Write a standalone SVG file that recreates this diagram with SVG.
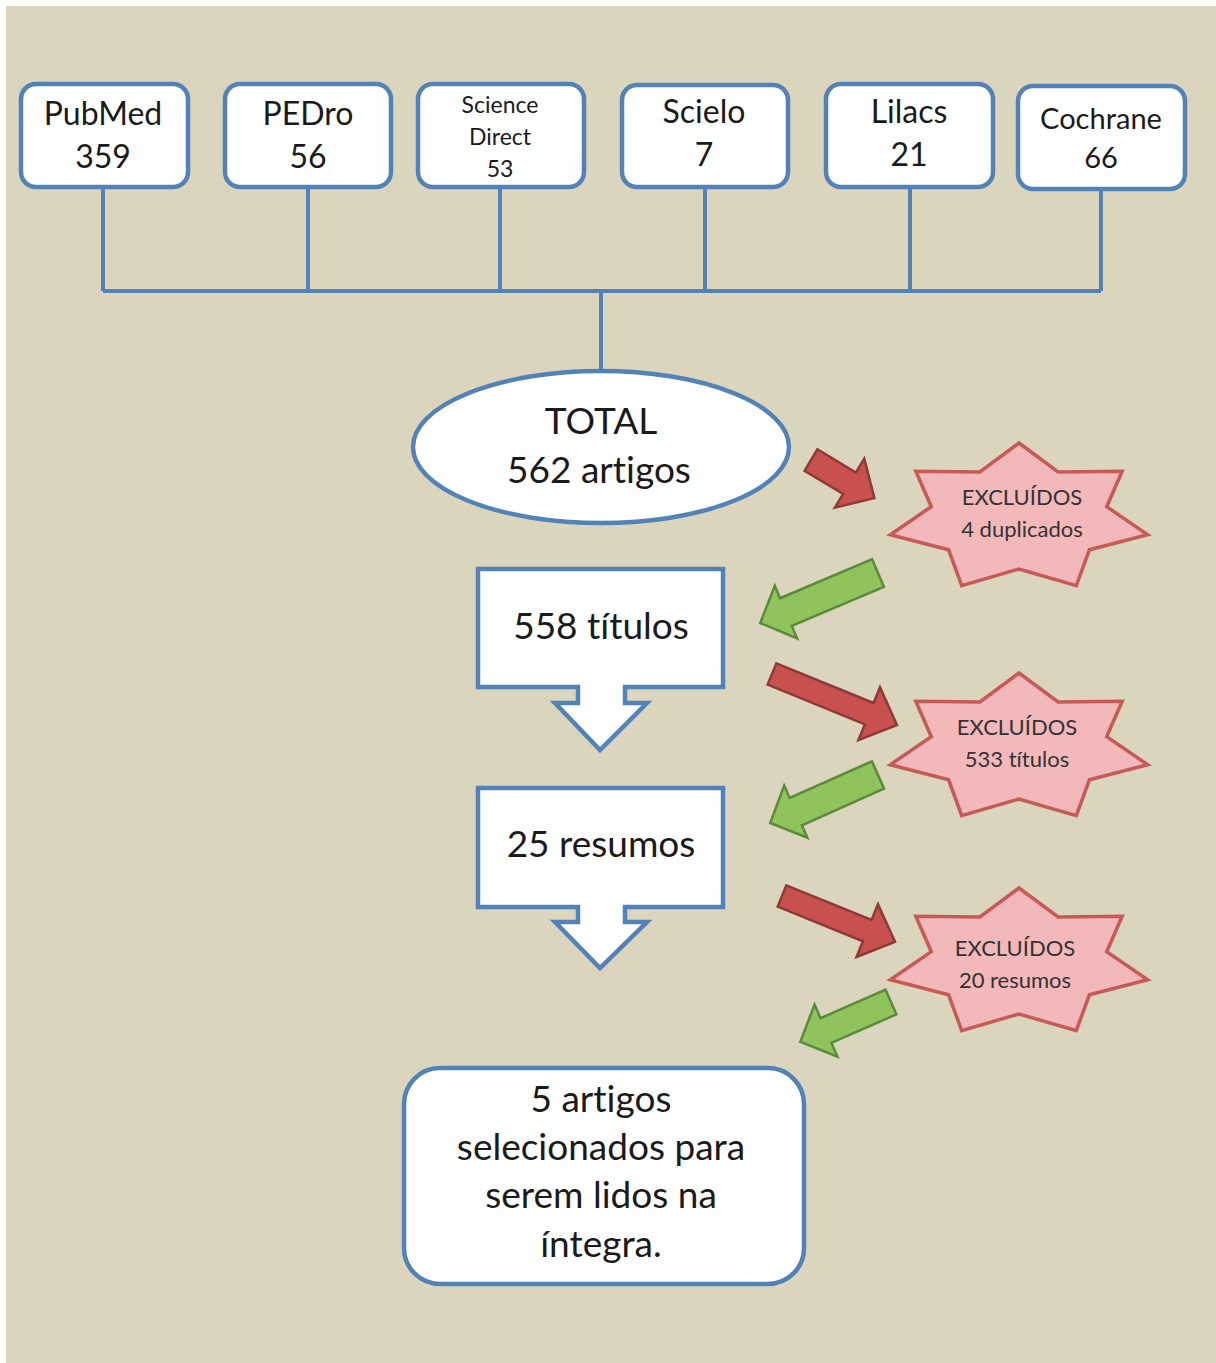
<svg xmlns="http://www.w3.org/2000/svg" width="1216" height="1363" viewBox="0 0 1216 1363">
<defs>
<style>
.bg{fill:#dbd5be}
.box{fill:#ffffff;stroke:#5282b6;stroke-width:4.5}
.line{fill:none;stroke:#5282b6;stroke-width:4}
.star{fill:#f3b8ba;stroke:#c65a58;stroke-width:3.5;stroke-linejoin:miter}
.red{fill:#c8504f;stroke:#8e3a38;stroke-width:2.5;stroke-linejoin:miter}
.green{fill:#8fc35b;stroke:#5b8a3c;stroke-width:2.5;stroke-linejoin:miter}
text{font-family:Lato,"Open Sans","Liberation Sans",sans-serif;fill:#1a1a1a;text-anchor:middle;font-variant-ligatures:none}
.t32{font-size:32px}
.t29{font-size:29px}
.t24{font-size:23px}
.t37{font-size:37px}
.t23{font-size:22px;fill:#333}
</style>
<path id="star7" d="M0,-75 L39.1,-46 L103.2,-46.8 L87.7,-11.3 L128.7,16.7 L70.4,31.8 L57.3,67.6 L0,51 L-57.3,67.6 L-70.4,31.8 L-128.7,16.7 L-87.7,-11.3 L-103.2,-46.8 L-39.1,-46 Z"/>
</defs>
<rect class="bg" x="6" y="6" width="1210" height="1357"/>

<g id="connectors">
<path class="line" d="M103,187 V291 M308,187 V291 M500,187 V291 M705,187 V291 M910,187 V291 M1101,189 V291 M103,291 H1101 M601,291 V371"/>
<path class="red" transform="translate(811,460) rotate(31)" d="M0,-12.5 H45 V-28.5 L74,0 L45,28.5 V12.5 H0 Z"/>
<path class="green" transform="translate(878,573) rotate(157)" d="M0,-15 H100 V-28.5 L128,0 L100,28.5 V15 H0 Z"/>
<path class="red" transform="translate(772,674) rotate(22.2)" d="M0,-11.5 H105 V-28.5 L135,0 L105,28.5 V11.5 H0 Z"/>
<path class="green" transform="translate(878,775) rotate(156)" d="M0,-15 H90 V-28.5 L118,0 L90,28.5 V15 H0 Z"/>
<path class="red" transform="translate(782,896) rotate(22.1)" d="M0,-11.5 H92 V-28.5 L122,0 L92,28.5 V11.5 H0 Z"/>
<path class="green" transform="translate(891,1002) rotate(156.3)" d="M0,-13.5 H71 V-28.5 L99,0 L71,28.5 V13.5 H0 Z"/>
</g>

<g id="pubmed">
<rect class="box" x="21" y="84" width="167" height="103" rx="15"/>
<text class="t32" x="103" y="125">PubMed</text>
<text class="t32" x="103" y="168">359</text>
</g>
<g id="pedro">
<rect class="box" x="225" y="84" width="166" height="103" rx="15"/>
<text class="t32" x="308" y="125">PEDro</text>
<text class="t32" x="308" y="168">56</text>
</g>
<g id="sciencedirect">
<rect class="box" x="418" y="84" width="166" height="103" rx="15"/>
<text class="t24" x="500" y="113">Science</text>
<text class="t24" x="500" y="145">Direct</text>
<text class="t24" x="500" y="177">53</text>
</g>
<g id="scielo">
<rect class="box" x="622" y="85" width="166" height="102" rx="15"/>
<text class="t32" x="704" y="123">Scielo</text>
<text class="t32" x="704" y="166">7</text>
</g>
<g id="lilacs">
<rect class="box" x="826" y="84" width="167" height="103" rx="15"/>
<text class="t32" x="909" y="123">Lilacs</text>
<text class="t32" x="909" y="166">21</text>
</g>
<g id="cochrane">
<rect class="box" x="1018" y="86" width="167" height="103" rx="15"/>
<text class="t29" x="1101" y="129">Cochrane</text>
<text class="t29" x="1101" y="168">66</text>
</g>

<g id="total">
<ellipse class="box" cx="601" cy="447" rx="188" ry="76"/>
<text class="t37" x="601" y="434">TOTAL</text>
<text class="t37" x="599" y="483">562 artigos</text>
</g>

<g id="excl1">
<use href="#star7" class="star" transform="translate(1019,518)"/>
<text class="t23" x="1022" y="505">EXCLUÍDOS</text>
<text class="t23" x="1022" y="537">4 duplicados</text>
</g>

<g id="titulos">
<path class="box" d="M478,569 H723 V687 H625 V703 H647 L600,750 L555,703 H578 V687 H478 Z"/>
<text class="t37" x="601" y="639">558 títulos</text>
</g>

<g id="excl2">
<use href="#star7" class="star" transform="translate(1019,748)"/>
<text class="t23" x="1017" y="735">EXCLUÍDOS</text>
<text class="t23" x="1017" y="767">533 títulos</text>
</g>

<g id="resumos">
<path class="box" d="M478,788 H723 V907 H625 V922 H647 L600,968 L555,922 H578 V907 H478 Z"/>
<text class="t37" x="601" y="857">25 resumos</text>
</g>

<g id="excl3">
<use href="#star7" class="star" transform="translate(1019,963)"/>
<text class="t23" x="1015" y="956">EXCLUÍDOS</text>
<text class="t23" x="1015" y="988">20 resumos</text>
</g>

<g id="final">
<rect class="box" x="404" y="1068" width="400" height="216" rx="36"/>
<text class="t37" x="601" y="1112">5 artigos</text>
<text class="t37" x="601" y="1160">selecionados para</text>
<text class="t37" x="601" y="1208">serem lidos na</text>
<text class="t37" x="601" y="1257">íntegra.</text>
</g>
</svg>
